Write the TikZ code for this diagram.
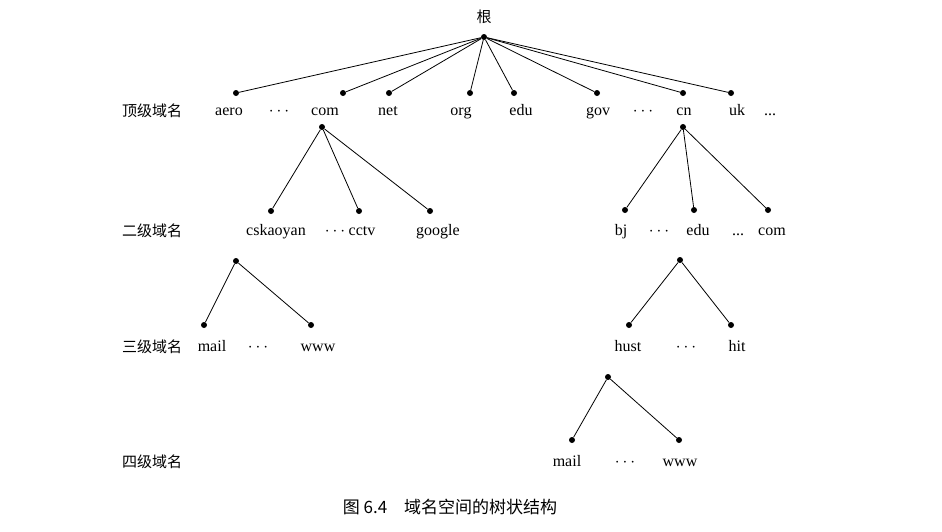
\documentclass[tikz,border=0pt]{standalone}
\usepackage{fontspec}
\setmainfont{Liberation Serif}
\newfontfamily\cjk{Noto Sans CJK SC}
\usetikzlibrary{positioning}
\newcommand\threedots{...}
\newcommand\middots{$\cdots$}

\begin{document}
\begin{tikzpicture}[x=1pt,y=-1pt,
  dot/.style={circle, fill, inner sep=0pt, minimum size=6pt},
  lbl/.style={font=\fontsize{16}{18}\selectfont, inner sep=1pt, anchor=base},
  lvl/.style={font=\cjk\fontsize{15}{18}\selectfont, inner sep=1pt, anchor=base},
  edge/.style={line width=0.8pt}
]
\useasboundingbox (0,0) rectangle (942,531);

% Root
\node[dot] (root) at (484,37) {};
\node[lvl] (rootlbl) at (484,22) {根};

% Top level domains
\node[dot] (aero) at (236,93) {};
\node[dot] (com) at (343,93) {};
\node[dot] (net) at (389,93) {};
\node[dot] (org) at (470,93) {};
\node[dot] (edu) at (514,93) {};
\node[dot] (gov) at (597,93) {};
\node[dot] (cn) at (683,93) {};
\node[dot] (uk) at (731,93) {};
\foreach \t/\x in {aero/229, \middots/279, com/325, net/388, org/461, edu/521, gov/598, \middots/643, cn/684, uk/737, \threedots/770}
  \node[lbl] at (\x,115) {\t};
\foreach \n in {aero,com,net,org,edu,gov,cn,uk}
  \draw[edge] (root) -- (\n);

% Second level under com
\node[dot] (comtop) at (322,127) {};
\node[dot] (cskaoyan) at (271,211) {};
\node[dot] (cctv) at (359,211) {};
\node[dot] (google) at (430,211) {};
\foreach \n in {cskaoyan,cctv,google}
  \draw[edge] (comtop) -- (\n);

% Second level under cn
\node[dot] (cntop) at (683,127) {};
\node[dot] (bj) at (625,210) {};
\node[dot] (cnedu) at (694,210) {};
\node[dot] (cncom) at (768,210) {};
\foreach \n in {bj,cnedu,cncom}
  \draw[edge] (cntop) -- (\n);
\foreach \t/\x in {cskaoyan/276, \middots/335, cctv/362, google/438, bj/621, \middots/659, edu/698, \threedots/738, com/772}
  \node[lbl] at (\x,235) {\t};

% Third level
\node[dot] (cstop) at (236,261) {};
\node[dot] (csmail) at (204,325) {};
\node[dot] (cswww) at (311,325) {};
\draw[edge] (cstop) -- (csmail);
\draw[edge] (cstop) -- (cswww);
\node[dot] (edutop) at (680,260) {};
\node[dot] (hust) at (629,325) {};
\node[dot] (hit) at (731,325) {};
\draw[edge] (edutop) -- (hust);
\draw[edge] (edutop) -- (hit);
\foreach \t/\x in {mail/212, \middots/258, www/318, hust/628, \middots/686, hit/737}
  \node[lbl] at (\x,351) {\t};

% Fourth level
\node[dot] (husttop) at (608,377) {};
\node[dot] (hmail) at (572,440) {};
\node[dot] (hwww) at (679,440) {};
\draw[edge] (husttop) -- (hmail);
\draw[edge] (husttop) -- (hwww);
\foreach \t/\x in {mail/567, \middots/625, www/680}
  \node[lbl] at (\x,466) {\t};

% Level names
\foreach \t/\y in {顶级域名/116, 二级域名/236, 三级域名/352, 四级域名/467}
  \node[lvl] at (152,\y) {\t};

% Caption
\node[lvl, font=\cjk\fontsize{17}{20}\selectfont] (caption) at (450,513) {图\ 6.4\quad 域名空间的树状结构};
\end{tikzpicture}
\end{document}
